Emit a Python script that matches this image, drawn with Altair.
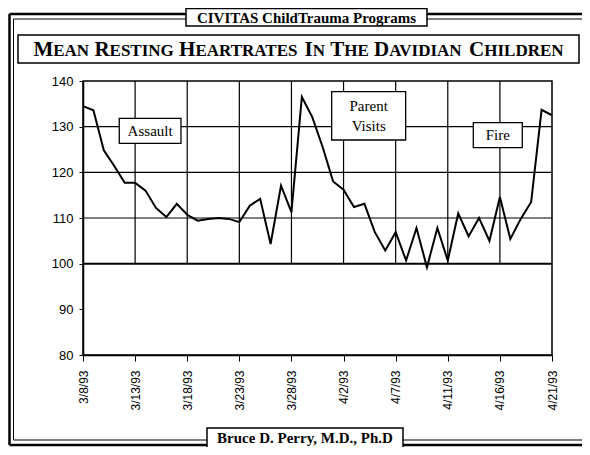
import altair as alt
import pandas as pd

# ---------------- data ----------------
date_labels = ["3/8/93", "3/13/93", "3/18/93", "3/23/93", "3/28/93",
               "4/2/93", "4/7/93", "4/11/93", "4/16/93", "4/21/93"]
tick_pos = [0, 5, 10, 15, 20, 25, 30, 35, 40, 45]
heart_rate = [134.5, 133.6, 124.8, 121.4, 117.7, 117.7, 116.0, 112.2, 110.2, 113.1,
              110.7, 109.4, 109.8, 110.0, 109.8, 109.1, 112.7, 114.2, 104.3, 117.1,
              111.3, 136.5, 132.1, 125.5, 118.0, 116.2, 112.4, 113.1, 106.9, 102.9,
              106.9, 100.7, 107.8, 99.2, 107.8, 100.7, 111.0, 106.0, 110.0, 105.0,
              114.6, 105.4, 109.8, 113.5, 133.7, 132.5]
y_ticks = [80, 90, 100, 110, 120, 130, 140]
grid_y = [110, 120, 130]
base_line = [100]
notes = ["Assault", "Parent\nVisits", "Fire"]
note_x = [6.44, 27.41, 39.8]
note_y = [129.1, 134.5, 128.1]
note_x1 = [3.48, 23.86, 37.45]
note_x2 = [9.40, 30.96, 42.15]
note_y1 = [126.36, 127.08, 125.4]
note_y2 = [131.83, 137.66, 130.87]

banner_text = "CIVITAS ChildTrauma Programs"
title_words = ["MEAN", "RESTING", "HEARTRATES", "IN", "THE", "DAVIDIAN", "CHILDREN"]
footer_text = "Bruce D. Perry, M.D., Ph.D"

# ---------------- layout ----------------
W, H = 469, 274
SERIF = "Liberation Serif"
SANS = "Liberation Sans"
xs = alt.Scale(domain=[0, 45], nice=False, zero=False)
ys = alt.Scale(domain=[80, 140], nice=False, zero=False)

df = pd.DataFrame({"idx": list(range(len(heart_rate))), "hr": heart_rate})
label_expr = "[" + ",".join("'%s'" % d for d in date_labels) + "][round(datum.value/5)]"

line = alt.Chart(df).mark_line(color="black", strokeWidth=2).encode(
    x=alt.X("idx:Q", scale=xs, axis=alt.Axis(
        values=tick_pos, labelExpr=label_expr, labelAngle=-90, title=None, grid=False,
        tickSize=6, labelPadding=9, labelFont=SANS, labelFontSize=12, labelColor="black",
        domainColor="black", domainWidth=1.5, tickColor="black", labelFlush=False)),
    y=alt.Y("hr:Q", scale=ys, axis=alt.Axis(
        values=y_ticks, title=None, grid=False, tickSize=4, labelPadding=6,
        labelFont=SANS, labelFontSize=13, labelColor="black",
        domainColor="black", domainWidth=1.5, tickColor="black")),
)

vgrid = alt.Chart(pd.DataFrame({"gx": tick_pos[1:-1], "lo": 100, "hi": 140})).mark_rule(
    color="black", strokeWidth=1.2).encode(
    x=alt.X("gx:Q", scale=xs, axis=None),
    y=alt.Y("lo:Q", scale=ys, axis=None), y2="hi:Q")

hgrid = alt.Chart(pd.DataFrame({"gy": grid_y, "a": 0, "b": 45})).mark_rule(
    color="black", strokeWidth=1.2).encode(
    y=alt.Y("gy:Q", scale=ys, axis=None),
    x=alt.X("a:Q", scale=xs, axis=None), x2="b:Q")

hbase = alt.Chart(pd.DataFrame({"gy": base_line, "a": 0, "b": 45})).mark_rule(
    color="black", strokeWidth=2).encode(
    y=alt.Y("gy:Q", scale=ys, axis=None),
    x=alt.X("a:Q", scale=xs, axis=None), x2="b:Q")

ndf = pd.DataFrame({"t": notes, "x": note_x, "y": note_y, "x1": note_x1,
                    "x2": note_x2, "y1": note_y1, "y2": note_y2})
nbox = alt.Chart(ndf).mark_rect(fill="white", stroke="black", strokeWidth=1.3).encode(
    x=alt.X("x1:Q", scale=xs, axis=None), x2="x2:Q",
    y=alt.Y("y1:Q", scale=ys, axis=None), y2="y2:Q")
ntext = alt.Chart(ndf).mark_text(font=SERIF, fontSize=15, lineBreak="\n", lineHeight=20,
                                 color="black").encode(
    x=alt.X("x:Q", scale=xs, axis=None), y=alt.Y("y:Q", scale=ys, axis=None), text="t:N")

# ---------------- decorations (pixel space relative to plot origin) ----------------
one = pd.DataFrame({"k": [0]})
frame = pd.DataFrame({
    "x1": [-73.5, -73.5, -73.5, -69.5, -69.5, -69.5],
    "x2": [499, -73.5, 499, 499, -69.5, 499],
    "y1": [-67, -67, 364, -62, -62, 359],
    "y2": [-67, 364, 364, -62, 359, 359],
    "w": [2.5, 2.5, 2.5, 1, 1, 1],
})
frame_layer = alt.Chart(frame).mark_rule(color="black").encode(
    x=alt.X("x1:Q", scale=None, axis=None), x2="x2:Q",
    y=alt.Y("y1:Q", scale=None, axis=None), y2="y2:Q",
    strokeWidth=alt.StrokeWidth("w:Q", scale=None, legend=None))

boxes = pd.DataFrame({
    "x1": [103, -65, 124],
    "x2": [344, 496, 320],
    "y1": [-72.5, -46, 347],
    "y2": [-55, -18, 368],
})
box_layer = alt.Chart(boxes).mark_rect(fill="white", stroke="black", strokeWidth=1.5).encode(
    x=alt.X("x1:Q", scale=None, axis=None), x2="x2:Q",
    y=alt.Y("y1:Q", scale=None, axis=None), y2="y2:Q")

banner = alt.Chart(one).mark_text(font=SERIF, fontSize=15, fontWeight="bold",
                                  color="black", baseline="middle").encode(
    x=alt.value(223.5), y=alt.value(-63.5), text=alt.value(banner_text))
footer = alt.Chart(one).mark_text(font=SERIF, fontSize=15, fontWeight="bold",
                                  color="black", baseline="alphabetic").encode(
    x=alt.value(222), y=alt.value(362), text=alt.value(footer_text))

# small-caps title built from Times-metric widths
em = {"A": .722, "C": .722, "D": .722, "E": .667, "G": .778, "H": .778, "I": .389,
      "L": .667, "M": .943, "N": .722, "R": .722, "S": .556, "T": .667, "V": .722}
BIG, SMALL = 21, 17
total = sum(em[w[0]] * BIG + sum(em[c] for c in w[1:]) * SMALL for w in title_words) \
    + 0.25 * BIG * (len(title_words) - 1)
cx = (-65 + 496) / 2
pos = cx - total / 2
rows = []
for w in title_words:
    rows.append({"t": w[0], "x": pos, "s": BIG})
    pos += em[w[0]] * BIG
    rows.append({"t": w[1:], "x": pos, "s": SMALL})
    pos += sum(em[c] for c in w[1:]) * SMALL + 0.25 * BIG
tdf = pd.DataFrame(rows)
title_layer = alt.Chart(tdf).mark_text(font=SERIF, fontWeight="bold", color="black",
                                       align="left", baseline="alphabetic").encode(
    x=alt.X("x:Q", scale=None, axis=None), y=alt.value(-25),
    text="t:N", size=alt.Size("s:Q", scale=None, legend=None))

chart = alt.layer(
    frame_layer, box_layer, banner, footer, title_layer,
    hgrid, vgrid, hbase, nbox, ntext, line,
).resolve_scale(x="independent", y="independent").properties(
    width=W, height=H,
    autosize=alt.AutoSizeParams(type="none"),
    padding={"left": 75, "top": 73, "right": 30, "bottom": 92},
    background="white",
).configure_view(stroke="black", strokeWidth=1.5)

chart.save("out.html", embed_options={"renderer": "svg", "actions": False})
